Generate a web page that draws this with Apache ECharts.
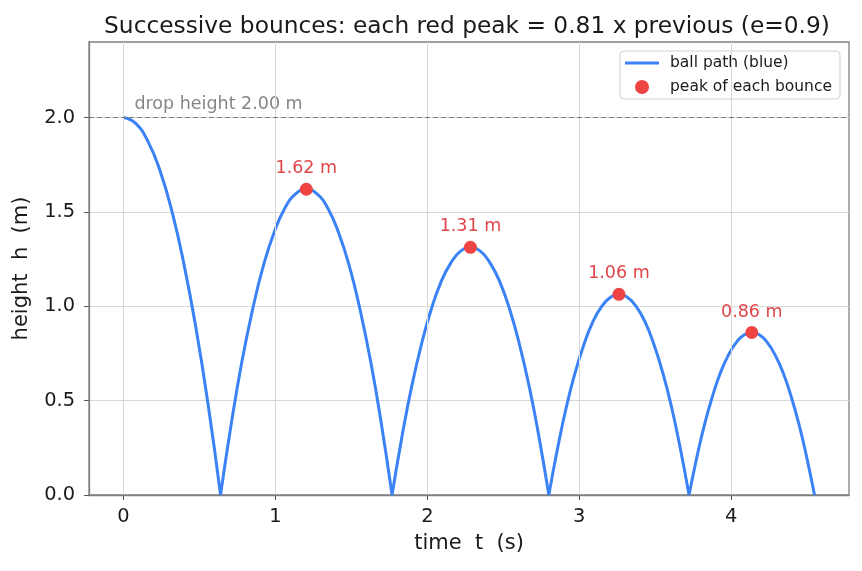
<!DOCTYPE html>
<html>
<head>
<meta charset="utf-8">
<script src="https://cdn.jsdelivr.net/npm/echarts@6/dist/echarts.min.js"></script>
<style>
  html, body { margin: 0; padding: 0; background: #fff; }
  #chart { width: 862px; height: 571px; }
</style>
</head>
<body>
<div id="chart"></div>
<script>
// ball path (t in s, h in m)
var pathT = [
    0, 0.080, 0.160, 0.240, 0.320, 0.399, 0.479, 0.559, 0.639,
    0.710, 0.780, 0.851, 0.921, 0.992, 1.062, 1.133, 1.2035, 1.274, 1.345, 1.415, 1.486, 1.556, 1.627, 1.697, 1.768,
    1.833, 1.897, 1.962, 2.026, 2.090, 2.155, 2.219, 2.284, 2.349, 2.413, 2.478, 2.542, 2.606, 2.671, 2.735, 2.800,
    2.858, 2.915, 2.973, 3.031, 3.088, 3.146, 3.204, 3.2615, 3.319, 3.377, 3.435, 3.492, 3.550, 3.608, 3.665, 3.723,
    3.775, 3.826, 3.878, 3.929, 3.981, 4.033, 4.084, 4.136, 4.188, 4.239, 4.291, 4.343, 4.394, 4.446, 4.497, 4.549
];
var pathH = [
    2.0, 1.969, 1.875, 1.719, 1.5, 1.219, 0.875, 0.469, 0,
    0.380, 0.709, 0.987, 1.215, 1.392, 1.519, 1.595, 1.62, 1.595, 1.519, 1.392, 1.215, 0.987, 0.709, 0.380, 0,
    0.308, 0.574, 0.800, 0.984, 1.128, 1.230, 1.292, 1.312, 1.292, 1.230, 1.128, 0.984, 0.800, 0.574, 0.308, 0,
    0.249, 0.465, 0.648, 0.797, 0.914, 0.997, 1.046, 1.063, 1.046, 0.997, 0.914, 0.797, 0.648, 0.465, 0.249, 0,
    0.202, 0.377, 0.525, 0.646, 0.740, 0.807, 0.848, 0.861, 0.848, 0.807, 0.740, 0.646, 0.525, 0.377, 0.202, 0
];
// red peaks
var peakT = [1.2035, 2.284, 3.2615, 4.136];
var peakH = [1.62, 1.312, 1.063, 0.861];
var dropHeight = 2.0;
var xTicks = [0, 1, 2, 3, 4];
var yTicks = [0, 0.5, 1.0, 1.5, 2.0];

var blue = '#3b82f6';
var red = '#ef4444';
var font = 'DejaVu Sans';

// break the path at every landing so each arc is smoothed on its own
var pathData = [];
for (var i = 0; i < pathT.length; i++) {
    pathData.push([pathT[i], pathH[i]]);
    if (pathH[i] === 0 && i > 0 && i < pathT.length - 1) {
        pathData.push([pathT[i], null]);
        pathData.push([pathT[i], pathH[i]]);
    }
}
var peakData = peakT.map(function (t, i) { return [t, peakH[i]]; });

var myChart = echarts.init(document.getElementById('chart'));
var option = {
    animation: false,
    textStyle: {fontFamily: font},
    title: {
        text: 'Successive bounces: each red peak = 0.81 x previous (e=0.9)',
        left: 462,
        textAlign: 'center',
        top: 10,
        textStyle: {fontFamily: font, fontSize: 23.3, fontWeight: 'normal', color: '#1a1a1a'}
    },
    legend: {
        orient: 'vertical',
        right: 22,
        top: 51,
        itemWidth: 34,
        itemHeight: 14,
        itemGap: 8,
        padding: [4, 8, 4, 5],
        backgroundColor: 'rgba(255,255,255,0.85)',
        borderColor: '#d0d0d0',
        borderWidth: 1,
        borderRadius: 4,
        textStyle: {fontFamily: font, fontSize: 15.5, color: '#1a1a1a', padding: [0, 0, 0, 6]},
        data: [
            {name: 'ball path (blue)', icon: 'path://M0,0 L34,0 L34,3 L0,3 Z', itemStyle: {color: blue}},
            {name: 'peak of each bounce', icon: 'circle', itemStyle: {color: red}}
        ]
    },
    grid: {
        left: 89,
        right: 13,
        top: 42,
        bottom: 76,
        show: true,
        borderColor: '#808080',
        borderWidth: 1.3,
        backgroundColor: 'transparent'
    },
    xAxis: {
        type: 'value',
        min: -0.227,
        max: 4.776,
        name: 'time  t  (s)',
        nameLocation: 'middle',
        nameGap: 38,
        nameTextStyle: {fontFamily: font, fontSize: 21, color: '#1a1a1a'},
        axisLine: {show: true, onZero: false, lineStyle: {color: '#808080', width: 1.3}},
        axisTick: {show: true, length: 5, customValues: xTicks, lineStyle: {color: '#555'}},
        axisLabel: {
            customValues: xTicks,
            margin: 12,
            fontFamily: font,
            fontSize: 19.4,
            color: '#1a1a1a',
            formatter: function (v) { return String(v); }
        },
        splitLine: {show: false}
    },
    yAxis: {
        type: 'value',
        min: 0,
        max: 2.4,
        interval: 0.5,
        name: 'height  h  (m)',
        nameLocation: 'middle',
        nameGap: 57,
        nameTextStyle: {fontFamily: font, fontSize: 21, color: '#1a1a1a'},
        axisLine: {show: true, onZero: false, lineStyle: {color: '#808080', width: 1.3}},
        axisTick: {show: true, length: 5, customValues: yTicks, lineStyle: {color: '#555'}},
        axisLabel: {
            customValues: yTicks,
            margin: 14,
            fontFamily: font,
            fontSize: 19.4,
            color: '#1a1a1a',
            formatter: function (v) { return v.toFixed(1); }
        },
        splitLine: {show: true, lineStyle: {color: '#d8d8d8', width: 1}}
    },
    series: [
        {
            // vertical grid lines + dashed drop height line
            name: 'refs',
            type: 'line',
            data: [[0, dropHeight]],
            symbol: 'none',
            lineStyle: {opacity: 0},
            z: 1,
            silent: true,
            markLine: {
                silent: true,
                symbol: 'none',
                label: {show: false},
                data: xTicks.map(function (v) {
                    return {xAxis: v, lineStyle: {color: '#d8d8d8', width: 1, type: 'solid'}};
                }).concat([
                    {yAxis: dropHeight, lineStyle: {color: '#777777', width: 1.2, type: [5, 3]}}
                ])
            }
        },
        {
            name: 'drop label',
            type: 'scatter',
            data: [[0.072, dropHeight]],
            symbolSize: 0,
            silent: true,
            z: 4,
            label: {
                show: true,
                position: 'top',
                align: 'left',
                distance: 4,
                formatter: 'drop height ' + dropHeight.toFixed(2) + ' m',
                fontFamily: font,
                fontSize: 17.5,
                color: '#666666'
            }
        },
        {
            name: 'ball path (blue)',
            type: 'line',
            data: pathData,
            showSymbol: false,
            symbol: 'none',
            smooth: 0.5,
            connectNulls: false,
            z: 3,
            lineStyle: {color: blue, width: 3},
            itemStyle: {color: blue}
        },
        {
            name: 'peak of each bounce',
            type: 'scatter',
            data: peakData,
            symbolSize: 13,
            z: 5,
            itemStyle: {color: red, opacity: 1},
            label: {
                show: true,
                position: 'top',
                distance: 5,
                fontFamily: font,
                fontSize: 17.5,
                color: '#e0454a',
                formatter: function (p) { return p.value[1].toFixed(2) + ' m'; }
            }
        }
    ]
};
myChart.setOption(option);
</script>
</body>
</html>
